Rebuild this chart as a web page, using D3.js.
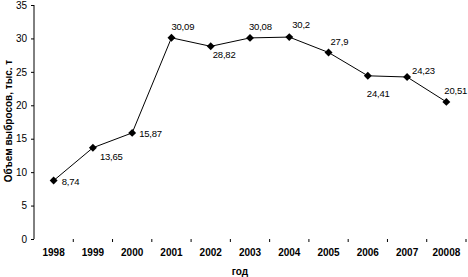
<!DOCTYPE html>
<html><head><meta charset="utf-8">
<script src="https://cdn.jsdelivr.net/npm/d3@7"></script>
<style>body{margin:0;background:#fff}svg{display:block;font-family:"Liberation Sans",Arial,sans-serif}</style>
</head><body>
<svg id="c" width="468" height="277"></svg>
<script>
const years = ["1998","1999","2000","2001","2002","2003","2004","2005","2006","2007","20008"];
const values = [8.74,13.65,15.87,30.09,28.82,30.08,30.2,27.9,24.41,24.23,20.51];
const labels = ["8,74","13,65","15,87","30,09","28,82","30,08","30,2","27,9","24,41","24,23","20,51"];
const yTicks = [0,5,10,15,20,25,30,35];
// label placement relative to point: [dx, dy]
const labelOffsets = [[8,4],[7,12],[7,4],[0,-8],[2,12],[-1,-8],[3,-9],[2,-7],[-1,21],[5,-3],[-2,-8]];

const svg = d3.select("#c");
const x = d3.scaleBand().domain(years).range([34,466]);
const y = d3.scaleLinear().domain([0,35]).range([239,5]);

// y axis
const ya = svg.append("g").attr("transform","translate(34,0)")
  .call(d3.axisLeft(y).tickValues(yTicks).tickSize(3).tickPadding(4).tickFormat(d3.format("d")));
ya.select(".domain").attr("d","M0,5V239").attr("stroke","#000");
ya.selectAll("text").attr("font-size",10).attr("fill","#000").attr("font-family","Liberation Sans, Arial");

// x ticks at band boundaries (no domain line)
const bounds = years.map(d=>x(d)).concat([x.range()[1]]).slice(1);
svg.append("g").selectAll("line").data(bounds).join("line")
  .attr("x1",d=>d).attr("x2",d=>d).attr("y1",239).attr("y2",242).attr("stroke","#000");
svg.append("g").selectAll("text").data(years).join("text")
  .attr("x",d=>x(d)+x.bandwidth()/2).attr("y",256).attr("text-anchor","middle")
  .attr("font-size",10).attr("font-weight","bold").text(d=>d);

// titles
svg.append("text").attr("x",240).attr("y",275).attr("text-anchor","middle")
  .attr("font-size",10).attr("font-weight","bold").text("год");
svg.append("text").attr("transform","translate(12,121) rotate(-90)").attr("text-anchor","middle")
  .attr("font-size",10).attr("font-weight","bold").text("Объем выбросов, тыс. т");

// line
const cx = (d,i)=>x(years[i])+x.bandwidth()/2;
svg.append("path").datum(values)
  .attr("d",d3.line().x(cx).y(d=>y(d)))
  .attr("fill","none").attr("stroke","#000").attr("stroke-width",1);

// markers
svg.append("g").selectAll("path").data(values).join("path")
  .attr("d",d3.symbol(d3.symbolDiamond2,40))
  .attr("transform",(d,i)=>`translate(${cx(d,i)},${y(d)})`).attr("fill","#000");

// data labels
svg.append("g").selectAll("text").data(values).join("text")
  .attr("x",(d,i)=>cx(d,i)+labelOffsets[i][0]).attr("y",(d,i)=>y(d)+labelOffsets[i][1])
  .attr("font-size",9.5).attr("letter-spacing",-0.2).text((d,i)=>labels[i]);
</script>
</body></html>
